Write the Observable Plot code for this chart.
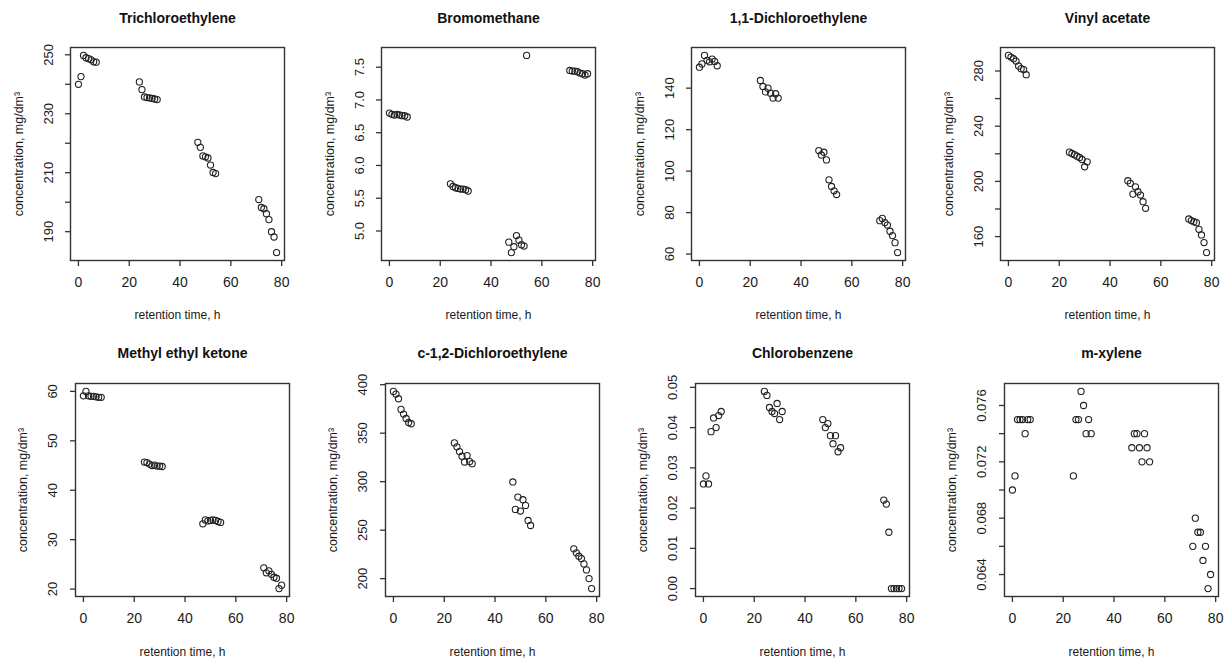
<!DOCTYPE html>
<html>
<head>
<meta charset="utf-8">
<script src="https://cdn.jsdelivr.net/npm/d3@7"></script>
<script src="https://cdn.jsdelivr.net/npm/@observablehq/plot@0.6"></script>
<style>
  html, body { margin: 0; padding: 0; background: #fff; }
  #wrap { position: relative; width: 1229px; height: 662px; overflow: hidden; font-family: "Liberation Sans", Arial, sans-serif; }
  .panel { position: absolute; }
  .panel svg { display: block; }
</style>
</head>
<body>
<div id="wrap"></div>
<script>
// ---- data ----
const hours = [0,1,2,3,4,5,6,7, 24,25,26,27,28,29,30,31, 47,48,49,50,51,52,53,54, 71,72,73,74,75,76,77,78];

const trichloroethylene = [240.0,242.6,249.8,249.0,248.7,248.3,247.6,247.5, 240.8,238.2,235.7,235.5,235.4,235.2,235.0,234.8, 220.3,218.6,215.7,215.4,215.0,212.6,210.1,209.7, 200.9,198.2,197.8,196.1,194.1,190.0,188.2,182.9];
const bromomethane = [6.80,6.78,6.77,6.78,6.77,6.76,6.76,6.74, 5.72,5.68,5.66,5.65,5.64,5.64,5.63,5.61, 4.83,4.67,4.76,4.93,4.86,4.79,4.77,7.68, 7.45,7.44,7.44,7.43,7.41,7.40,7.38,7.40];
const dichloroethylene11 = [150.1,151.7,155.8,153.4,152.7,154.0,152.9,150.8, 143.7,140.8,138.2,140.0,137.6,135.2,137.3,135.2, 109.9,107.8,109.1,105.4,95.8,92.6,90.5,88.7, 76.1,77.2,75.2,74.0,71.0,68.9,65.5,60.7];
const vinylAcetate = [291.3,290.1,288.9,287.2,283.6,281.7,281.0,277.3, 221.2,220.2,219.3,218.3,217.3,215.9,210.6,214.2, 200.5,198.6,190.8,196.1,192.5,190.1,185.3,180.5, 172.8,171.6,170.8,170.1,165.3,161.2,155.7,148.4];
const methylEthylKetone = [59.1,60.0,59.1,59.0,59.0,58.9,58.8,58.8, 45.7,45.6,45.3,45.0,45.1,44.9,44.9,44.8, 33.2,34.0,33.8,33.9,34.0,33.9,33.7,33.5, 24.3,23.3,23.7,23.0,22.4,22.2,20.1,20.8];
const dichloroethyleneC12 = [393.1,390.3,385.5,374.5,369.7,365.2,361.0,359.7, 340.0,335.9,331.0,326.2,320.3,326.9,320.7,318.6, 299.7,271.4,284.1,269.7,281.4,275.5,260.0,254.8, 230.7,226.6,223.1,220.7,215.2,209.0,200.0,189.7];
const chlorobenzene = [0.026,0.028,0.026,0.039,0.0424,0.040,0.043,0.044, 0.049,0.048,0.045,0.044,0.0435,0.046,0.042,0.044, 0.042,0.040,0.041,0.038,0.036,0.038,0.034,0.035, 0.022,0.021,0.014,0.000,0.000,0.000,0.000,0.000];
const mXylene = [0.070,0.071,0.075,0.075,0.075,0.074,0.075,0.075, 0.071,0.075,0.075,0.077,0.076,0.074,0.075,0.074, 0.073,0.074,0.074,0.073,0.072,0.074,0.073,0.072, 0.066,0.068,0.067,0.067,0.065,0.066,0.063,0.064];

const titles = ["Trichloroethylene", "Bromomethane", "1,1-Dichloroethylene", "Vinyl acetate",
                "Methyl ethyl ketone", "c-1,2-Dichloroethylene", "Chlorobenzene", "m-xylene"];

// tick positions (all ticks) and labelled ticks, per panel
const yTicksTCE = [190,200,210,220,230,240,250];
const yLabelsTCE = ["190","210","230","250"];
const yTicksBromo = [5.0,5.5,6.0,6.5,7.0,7.5];
const yLabelsBromo = ["5.0","5.5","6.0","6.5","7.0","7.5"];
const yTicksDCE11 = [60,80,100,120,140];
const yLabelsDCE11 = ["60","80","100","120","140"];
const yTicksVinyl = [160,180,200,220,240,260,280];
const yLabelsVinyl = ["160","200","240","280"];
const yTicksMEK = [20,30,40,50,60];
const yLabelsMEK = ["20","30","40","50","60"];
const yTicksDCE12 = [200,250,300,350,400];
const yLabelsDCE12 = ["200","250","300","350","400"];
const yTicksChloro = [0,0.01,0.02,0.03,0.04,0.05];
const yLabelsChloro = ["0.00","0.01","0.02","0.03","0.04","0.05"];
const yTicksXylene = [0.064,0.066,0.068,0.070,0.072,0.074,0.076];
const yLabelsXylene = ["0.064","0.068","0.072","0.076"];

const xTicks = [0,20,40,60,80];
const xLabel = "retention time, h";
const yLabel = "concentration, mg/dm\u00B3";

const series = [trichloroethylene, bromomethane, dichloroethylene11, vinylAcetate,
                methylEthylKetone, dichloroethyleneC12, chlorobenzene, mXylene];
const yTicksAll = [yTicksTCE, yTicksBromo, yTicksDCE11, yTicksVinyl, yTicksMEK, yTicksDCE12, yTicksChloro, yTicksXylene];
const yLabelsAll = [yLabelsTCE, yLabelsBromo, yLabelsDCE11, yLabelsVinyl, yLabelsMEK, yLabelsDCE12, yLabelsChloro, yLabelsXylene];

// ---- layout ----
const panelLeft = [[0, 311, 621, 930], [0, 310, 620, 929]];
const panelTop = [0, 336];
const mLeft = [70, 75];
const plotW = 214;
const H = 326;

// R-style 4% padded extent
function padded(vals) {
  const [a, b] = d3.extent(vals);
  const p = (b - a) * 0.04;
  return [a - p, b + p];
}

const wrap = document.getElementById("wrap");
const ink = "#1a1a1a";
const font = "Liberation Sans, Arial, sans-serif";

series.forEach((vals, i) => {
  const row = Math.floor(i / 4), col = i % 4;
  const left = panelLeft[row][col];
  const ml = mLeft[row];
  const W = Math.min(305, 1229 - left);
  const data = hours.map((h, k) => ({h, v: vals[k]}));
  const chart = Plot.plot({
    width: W,
    height: H,
    marginLeft: ml,
    marginRight: W - ml - plotW,
    marginTop: 47,
    marginBottom: H - 47 - 213,
    style: {fontFamily: font, color: ink, background: "transparent", overflow: "visible"},
    x: {domain: padded(hours), axis: null},
    y: {domain: padded(vals), axis: null},
    marks: [
      Plot.frame({stroke: "#333", strokeWidth: 1.4}),
      Plot.axisX(xTicks, {tickSize: 6, tickPadding: 11, fontSize: 14, stroke: "#333", strokeWidth: 1.3, fill: ink, label: null}),
      Plot.axisY(yTicksAll[i], {tickSize: 5, tickFormat: () => "", stroke: "#333", strokeWidth: 1.3, label: null}),
      Plot.text(yLabelsAll[i], {y: d => +d, text: d => d, frameAnchor: "left", dx: -22 - (row ? 1 : 0), rotate: -90, fontSize: 13, fill: ink, textAnchor: "middle", lineAnchor: "middle"}),
      Plot.dot(data, {x: "h", y: "v", r: 3.1, stroke: "#222", strokeWidth: 1.1, fill: "none"}),
      Plot.text([titles[i]], {frameAnchor: "top", dy: -29 - row, fontSize: 14, fontWeight: "bold", fill: "#111", lineAnchor: "middle"}),
      Plot.text([xLabel], {frameAnchor: "bottom", dy: 55 + row, fontSize: 12, fill: ink, lineAnchor: "middle"}),
      Plot.text([yLabel], {frameAnchor: "left", dx: -52 - row, rotate: -90, fontSize: 12.5, fill: ink, textAnchor: "middle", lineAnchor: "middle"})
    ]
  });
  const div = document.createElement("div");
  div.className = "panel";
  div.style.left = left + "px";
  div.style.top = panelTop[row] + "px";
  div.appendChild(chart);
  wrap.appendChild(div);
});
</script>
</body>
</html>
